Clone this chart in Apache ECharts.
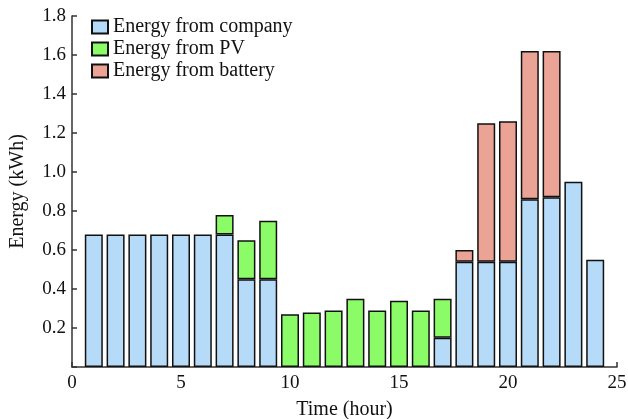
<!DOCTYPE html>
<html>
<head>
<meta charset="utf-8">
<script src="https://cdn.jsdelivr.net/npm/echarts@6/dist/echarts.min.js"></script>
<style>
  html, body { margin: 0; padding: 0; background: #fff; }
  #chart { width: 628px; height: 419px; }
</style>
</head>
<body>
<div id="chart"></div>
<script>
// Hour of day for each bar
const hours = [1, 2, 3, 4, 5, 6, 7, 8, 9, 10, 11, 12, 13, 14, 15, 16, 17, 18, 19, 20, 21, 22, 23, 24];
// Energy supplied by each source (kWh); null where the source is unused
const fromCompany = [0.68, 0.68, 0.68, 0.68, 0.68, 0.68, 0.68, 0.45, 0.45, null, null, null, null, null, null, null, 0.15, 0.54, 0.54, 0.54, 0.86, 0.87, 0.95, 0.55];
const fromPV      = [null, null, null, null, null, null, 0.10, 0.20, 0.30, 0.27, 0.28, 0.29, 0.35, 0.29, 0.34, 0.29, 0.20, null, null, null, null, null, null, null];
const fromBattery = [null, null, null, null, null, null, null, null, null, null, null, null, null, null, null, null, null, 0.06, 0.71, 0.72, 0.76, 0.75, null, null];
const seriesNames = ['Energy from company', 'Energy from PV', 'Energy from battery'];
const seriesColors = ['#b5dbf8', '#8cfb68', '#eba395'];

const font = 'Liberation Serif';
// Energy goes in the first column so the stack is summed along y
const rows = vals => hours.map((h, i) => [vals[i], h]);

const chart = echarts.init(document.getElementById('chart'));
const makeSeries = (name, vals, color) => ({
  name,
  type: 'bar',
  stack: 'energy',
  barWidth: 18,
  encode: { x: 1, y: 0 },
  data: rows(vals),
  itemStyle: { color, borderColor: '#111', borderWidth: 1.5 }
});

chart.setOption({
  animation: false,
  textStyle: { fontFamily: font },
  grid: { left: 72, right: 11, top: 16, bottom: 52, containLabel: false, outerBoundsMode: 'none' },
  legend: {
    left: 86,
    top: 12,
    orient: 'vertical',
    icon: 'rect',
    itemWidth: 16,
    itemHeight: 13,
    itemGap: 2,
    textStyle: { fontFamily: font, fontSize: 20, color: '#111' },
    data: seriesNames
  },
  xAxis: {
    type: 'value',
    min: 0,
    max: 25,
    interval: 5,
    name: 'Time (hour)',
    nameLocation: 'middle',
    nameGap: 33,
    nameTextStyle: { fontFamily: font, fontSize: 20, color: '#111' },
    axisLine: { lineStyle: { color: '#333', width: 1.5 } },
    axisTick: { inside: true, length: 5, lineStyle: { color: '#333', width: 1.5 } },
    axisLabel: { fontFamily: font, fontSize: 19, color: '#111', margin: 7 },
    splitLine: { show: false }
  },
  yAxis: {
    type: 'value',
    min: 0,
    max: 1.8,
    interval: 0.2,
    name: 'Energy (kWh)',
    nameLocation: 'middle',
    nameGap: 44,
    nameTextStyle: { fontFamily: font, fontSize: 20, color: '#111' },
    axisLine: { show: true, lineStyle: { color: '#333', width: 1.5 } },
    axisTick: { show: true, inside: true, length: 5, lineStyle: { color: '#333', width: 1.5 } },
    axisLabel: {
      fontFamily: font, fontSize: 19, color: '#111', margin: 6,
      formatter: v => (v === 0 ? '' : v.toFixed(1))
    },
    splitLine: { show: false }
  },
  series: [
    makeSeries(seriesNames[0], fromCompany, seriesColors[0]),
    makeSeries(seriesNames[1], fromPV, seriesColors[1]),
    makeSeries(seriesNames[2], fromBattery, seriesColors[2])
  ]
});
</script>
</body>
</html>
